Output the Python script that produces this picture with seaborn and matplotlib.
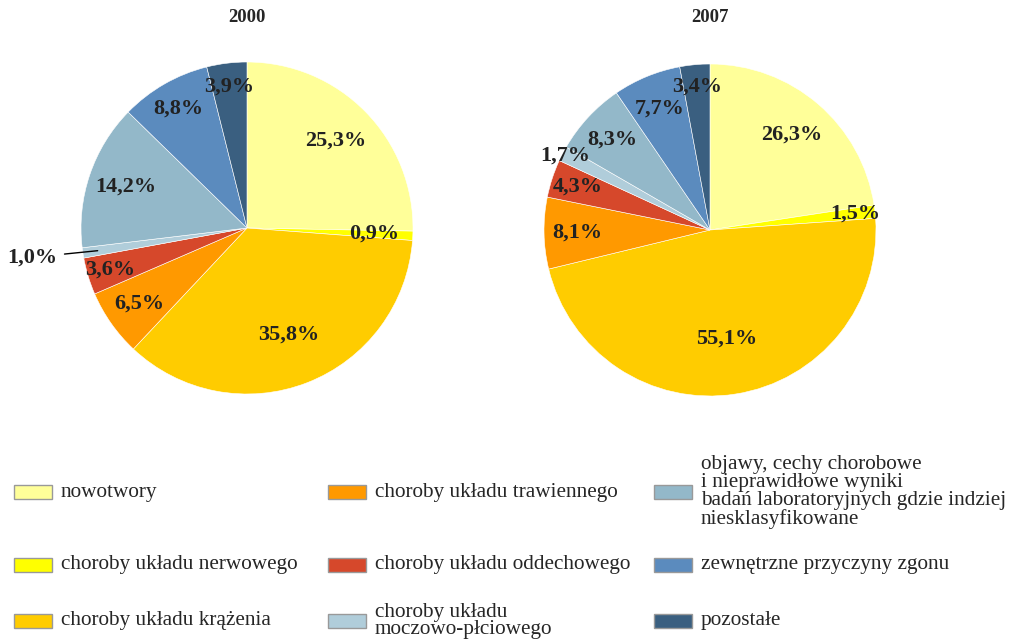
import numpy as np
import matplotlib
matplotlib.use("Agg")
import matplotlib.pyplot as plt
from matplotlib.patches import Rectangle
import seaborn as sns

# categories in drawing order (clockwise from 12 o'clock)
categories = [
    "nowotwory",
    "choroby układu nerwowego",
    "choroby układu krążenia",
    "choroby układu trawiennego",
    "choroby układu oddechowego",
    "choroby układu\nmoczowo-płciowego",
    "objawy, cechy chorobowe\ni nieprawidłowe wyniki\nbadań laboratoryjnych gdzie indziej\nniesklasyfikowane",
    "zewnętrzne przyczyny zgonu",
    "pozostałe",
]
colors = ["#FFFF99", "#FFFF00", "#FFCC00", "#FF9900", "#D6482B",
          "#B0CDDA", "#93B8C9", "#5B8BBE", "#3A5F80"]

years = ["2000", "2007"]
values_2000 = [25.3, 0.9, 35.8, 6.5, 3.6, 1.0, 14.2, 8.8, 3.9]
values_2007 = [26.3, 1.5, 55.1, 8.1, 4.3, 1.7, 8.3, 7.7, 3.4]

# radial position of each percentage label (fraction of radius)
label_r_2000 = [0.75, 0.77, 0.69, 0.79, 0.86, None, 0.77, 0.83, 0.86]
label_r_2007 = [0.76, 0.88, 0.66, 0.80, 0.84, 0.98, 0.80, 0.79, 0.87]

sns.set_theme(style="white")
plt.rcParams["font.family"] = ["Liberation Serif", "DejaVu Serif"]

palette = sns.color_palette(colors)

fig = plt.figure(figsize=(10.17, 6.43), dpi=100)
W, H = 1017, 643


def fmt(v):
    return f"{v:.1f}%".replace(".", ",")


def draw_pie(vals, radii, cx, cy, title):
    r = 166
    ax = fig.add_axes([(cx - r) / W, 1 - (cy + r) / H, 2 * r / W, 2 * r / H])
    wedges, _ = ax.pie(vals, colors=palette, startangle=90, counterclock=False,
                       wedgeprops=dict(edgecolor="white", linewidth=0.4))
    ax.set_xlim(-1, 1)
    ax.set_ylim(-1, 1)
    ax.set_aspect("equal")
    ax.axis("off")
    for w, v, rr in zip(wedges, vals, radii):
        mid = np.deg2rad((w.theta1 + w.theta2) / 2)
        if rr is None:
            # tiny slice: label outside with a leader line
            ax.annotate(fmt(v), xy=(0.91 * np.cos(mid), 0.91 * np.sin(mid)),
                        xytext=(1.31 * np.cos(mid), 1.31 * np.sin(mid) + 0.02),
                        ha="center", va="center", fontsize=16, fontweight="bold",
                        color="#222222",
                        arrowprops=dict(arrowstyle="-", color="black", lw=1,
                                        shrinkA=3, shrinkB=0))
        else:
            ax.text(rr * np.cos(mid), rr * np.sin(mid), fmt(v), ha="center",
                    va="center", fontsize=16, fontweight="bold", color="#222222")
    fig.text(cx / W, 1 - 18 / H, title, ha="center", va="center",
             fontsize=13.5, fontweight="bold")


draw_pie(values_2000, label_r_2000, 247, 228, years[0])
draw_pie(values_2007, label_r_2007, 710, 230, years[1])

# legend: 3 columns x 3 rows
col_x = [14, 328, 654]
row_y = [492, 565, 621]
for i, (lab, c) in enumerate(zip(categories, palette)):
    col, row = divmod(i, 3)
    x0, y0 = col_x[col], row_y[row]
    fig.add_artist(Rectangle((x0 / W, 1 - (y0 + 7) / H), 38 / W, 14 / H,
                             transform=fig.transFigure, facecolor=c,
                             edgecolor="#999999", linewidth=1))
    fig.text((x0 + 47) / W, 1 - y0 / H, lab, ha="left", va="center",
             fontsize=15.3, linespacing=0.92)

fig.savefig("out.png", dpi=100, facecolor="white")
